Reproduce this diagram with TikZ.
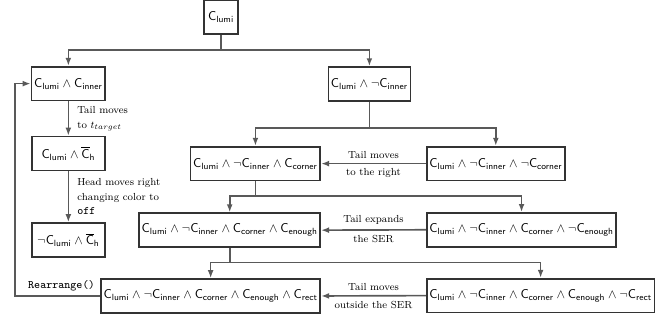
\documentclass[tikz,border=0pt]{standalone}
\usepackage{amsmath,amssymb}
\usepackage{tikz}
\usetikzlibrary{arrows.meta, positioning, calc}
\usepackage{xcolor}
\newcommand{\cnd}[1]{\mathsf{C}_{\mathsf{#1}}}
\newcommand{\cbar}{\overline{\mathsf{C}}_{\mathsf{h}}}

\begin{document}
\begin{tikzpicture}[
    box/.style={draw=black!80, line width=1.3pt, minimum height=0.93cm, inner xsep=2pt, fill=white},
    lbox/.style={box, minimum width=2cm},
    lbl/.style={font=\footnotesize, align=left},
    arrow/.style={-{Latex[length=2.2mm,width=1.6mm]}, line width=1.3pt, draw=black!65},
    link/.style={line width=1.3pt, draw=black!65}
]
    \useasboundingbox (0,0) rectangle (18.07,-8.8);

    \node[box, minimum width=0.93cm] (top) at (6.08, -0.47) {$\cnd{lumi}$};

    \node[lbox] (b1) at (1.88, -2.30) {$\cnd{lumi} \wedge \cnd{inner}$};
    \node[lbox] (b2) at (1.88, -4.22) {$\cnd{lumi} \wedge \cbar$};
    \node[lbox] (b3) at (1.88, -6.60) {$\neg\cnd{lumi} \wedge \cbar$};

    \node[box] (rt) at (10.16, -2.31) {$\cnd{lumi} \wedge \neg\cnd{inner}$};

    \node[box, anchor=east] (r1l) at (8.83, -4.50) {$\cnd{lumi} \wedge \neg\cnd{inner} \wedge \cnd{corner}$};
    \node[box, anchor=west] (r1r) at (11.715, -4.50) {$\cnd{lumi} \wedge \neg\cnd{inner} \wedge \neg\cnd{corner}$};

    \node[box, anchor=east] (r2l) at (8.83, -6.33) {$\cnd{lumi} \wedge \neg\cnd{inner} \wedge \cnd{corner} \wedge \cnd{enough}$};
    \node[box, anchor=west] (r2r) at (11.715, -6.32) {$\cnd{lumi} \wedge \neg\cnd{inner} \wedge \cnd{corner} \wedge \neg\cnd{enough}$};

    \node[box, anchor=east] (r3l) at (8.83, -8.14) {$\cnd{lumi} \wedge \neg\cnd{inner} \wedge \cnd{corner} \wedge \cnd{enough} \wedge \cnd{rect}$};
    \node[box, anchor=west] (r3r) at (11.715, -8.13) {$\cnd{lumi} \wedge \neg\cnd{inner} \wedge \cnd{corner} \wedge \cnd{enough} \wedge \neg\cnd{rect}$};

    % 分支
    \coordinate (s0) at ($(top.south)+(0,-0.42)$);
    \coordinate (s1) at ($(rt.south)+(0,-0.72)$);
    \coordinate (s2) at ($(r1l.south)+(0,-0.40)$);
    \coordinate (s3) at ($(r2l.south)+(0,-0.40)$);
    \draw[link] (top.south) -- (s0);
    \draw[arrow] (s0) -| (b1.north);
    \draw[arrow] (s0) -| (rt.north);
    \draw[link] (rt.south) -- (s1);
    \draw[arrow] (s1) -| (r1l.north);
    \draw[arrow] (s1) -| (r1r.north);
    \draw[link] (r1l.south) -- (s2);
    \draw[arrow] (s2) -| (r2l.north);
    \draw[arrow] (s2) -| (r2r.north);
    \draw[link] (r2l.south) -- (s3);
    \draw[arrow] (s3) -| (r3l.north);
    \draw[arrow] (s3) -| (r3r.north);

    % 左列
    \draw[arrow] (b1) -- node[lbl, right, xshift=3pt] {Tail moves\\[2pt] to $t_{target}$} (b2);
    \draw[arrow] (b2) -- node[lbl, right, xshift=3pt] {Head moves right\\[2pt] changing color to\\[2pt] {\small\texttt{off}}} (b3);

    % 右列
    \draw[arrow] (r1r.west) -- node[lbl, above] {Tail moves} node[lbl, below] {to the right} (r1l.east);
    \draw[arrow] (r2r.west) -- node[lbl, above] {Tail expands} node[lbl, below] {the SER} (r2l.east);
    \draw[arrow] (r3r.west) -- node[lbl, above] {Tail moves} node[lbl, below] {outside the SER} (r3l.east);

    % 回到开始
    \coordinate (lp) at (0.41, -8.14);
    \draw[arrow] (r3l.west) -- node[above, xshift=3pt, font=\small\ttfamily] {Rearrange()} (lp) |- (b1.west);
\end{tikzpicture}
\end{document}
